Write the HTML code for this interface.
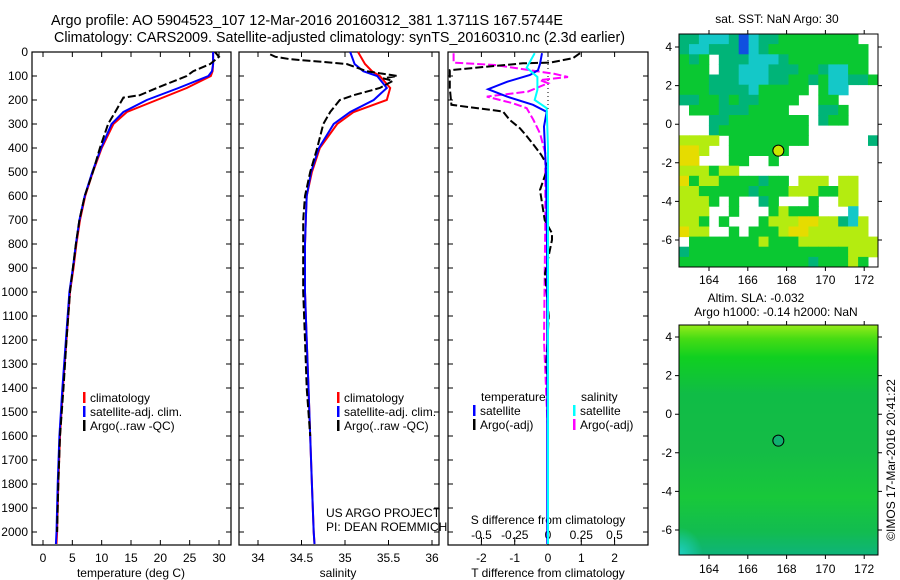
<!DOCTYPE html>
<html><head><meta charset="utf-8"><style>
html,body{margin:0;padding:0;background:#fff;}
svg{display:block;font-family:"Liberation Sans",sans-serif;}
</style></head><body>
<svg id="fig" width="900" height="580" viewBox="0 0 900 580" xmlns="http://www.w3.org/2000/svg">
<text x="51" y="25" font-size="15" textLength="512" lengthAdjust="spacingAndGlyphs">Argo profile: AO 5904523_107 12-Mar-2016 20160312_381 1.3711S 167.5744E</text>
<text x="54" y="42" font-size="15" textLength="571" lengthAdjust="spacingAndGlyphs">Climatology: CARS2009. Satellite-adjusted climatology: synTS_20160310.nc (2.3d earlier)</text>
<g id="plots"></g>
</svg>
<script>
// ---------- data ----------
const depthC = [0,50,80,100,150,200,250,300,400,500,600,700,800,900,1000,1200,1400,1600,1800,2000,2050];
const tClim  = [29.0,29.0,28.9,28.6,24.5,19.4,14.3,12.0,10.0,8.5,7.2,6.3,5.7,5.2,4.6,4.0,3.4,2.9,2.6,2.4,2.3];
const tSat   = [29.0,29.0,28.8,28.2,23.1,17.7,13.7,11.7,9.9,8.4,7.1,6.2,5.6,5.1,4.5,3.9,3.3,2.8,2.5,2.3,2.2];
const depthA = [0,20,50,80,100,150,180,190,250,300,400,500,600,700,800,900,1000,1200,1400,1600,1800,2000];
const tArgo  = [29.3,30.0,28.5,25.6,24.5,19.4,16.5,13.7,12.3,11.1,9.7,8.5,7.1,6.2,5.6,5.1,4.6,4.0,3.5,2.9,2.6,2.4];
const sClim  = [35.15,35.23,35.31,35.40,35.52,35.48,35.10,34.91,34.71,34.62,34.56,34.55,34.54,34.54,34.54,34.56,34.58,34.60,34.62,34.64,34.65];
const sSat   = [35.06,35.11,35.21,35.37,35.48,35.33,35.06,34.87,34.70,34.61,34.56,34.55,34.54,34.54,34.54,34.56,34.58,34.60,34.62,34.64,34.65];
const depthS = [10,20,30,40,50,80,100,110,120,150,180,200,250,300,400,500,600,700,1000,1200,1400,1600];
const sArgo  = [34.14,34.2,34.37,34.71,35.02,35.25,35.6,35.44,35.55,35.4,35.1,34.94,34.83,34.75,34.68,34.6,34.54,34.52,34.52,34.54,34.56,34.6];
const depthD = [5,50,76,96,124,155,186,220,249,311,500,800,1200,1600,2050];
const dTSat  = [-0.18,-0.24,-0.3,-0.54,-1.23,-1.8,-1.23,-0.45,-0.04,-0.12,-0.06,-0.03,-0.02,-0.02,-0.02];
const depthDA = [5,26,44,47,76,100,150,220,248,283,318,352,394,429,478,575,700,755,783,922,1100,1300,1400];
const dTArgo = [0.96,0.75,0.06,-0.75,-2.95,-2.95,-2.95,-2.9,-1.35,-1.15,-0.84,-0.63,-0.39,-0.2,0.0,-0.24,-0.1,0.12,0.12,-0.09,0.02,-0.05,0.0];
const depthSD = [5,44,54,82,90,104,117,130,165,186,214,234,283,339,422,700,1200,1600,2050];
const dSArgo = [-0.71,-0.71,-0.4,-0.06,0.04,0.15,-0.06,0.0,-0.15,-0.46,-0.26,-0.16,-0.11,-0.06,-0.02,-0.02,-0.03,0.0,0.0];
const depthSS = [5,65,104,158,200,234,400,1000,2050];
const dSSat  = [-0.1,-0.16,-0.08,-0.08,-0.1,-0.01,0.0,0.0,0.0];
const depthTicks = [0,100,200,300,400,500,600,700,800,900,1000,1100,1200,1300,1400,1500,1600,1700,1800,1900,2000];
const tTicks = [0,5,10,15,20,25,30];
const sTicks = [34,34.5,35,35.5,36];
const sTickLabels = ["34","34.5","35","35.5","36"];
const dTTicks = [-2,-1,0,1,2];
const dSTicks = [-0.5,-0.25,0,0.25,0.5];
const dSTickLabels = ["-0.5","-0.25","0","0.25","0.5"];
const lonTicks = [164,166,168,170,172];
const latTicks = [4,2,0,-2,-4,-6];
const argoLon = 167.5744, argoLat = -1.3711;
const sstGrid = [
"ttccctbcttgggggggg  ",
"tcctttbctgggggggggg ",
"gtg tttccctgggggggg ",
"ggg ttccctttggtccgg ",
"gggtttcccttggtgccttg",
"gggttttcggggg gcc   ",
"ttggtgttgggg  gg    ",
" gggtttgggg   ttg   ",
"   ttgggggggg tgg   ",
"   tggggggggg       ",
"yyyy gggggggg      t",
"ooy  gggggg         ",
"oo   gg  g          ",
"yyygyy              ",
"ogyyggggtgg yyy yy  ",
"yygggggtgggyyyggyy  ",
"yyyg g  tg   g  yy  ",
"yyy  g   gyggg   c  ",
"yyg g   gyyyooyytcy ",
"oyy  g gggyooyyyyyy ",
" gggggggygggyyyyyyyy",
"tggggggggggggggggyyy",
"gggggggggggggtgggyg "];
const sstColors = {g:"#0ac832",t:"#00b478",c:"#14c8c8",b:"#1050e0",y:"#b4ec10",o:"#e6dc00"};

// ---------- helpers ----------
const NS="http://www.w3.org/2000/svg";
const root=document.getElementById('plots');
function mk(tag,attrs,parent){const e=document.createElementNS(NS,tag);for(const k in attrs)e.setAttribute(k,attrs[k]);(parent||root).appendChild(e);return e;}
const Y0=52, KY=0.24, PB=545;
const yD=d=>Y0+KY*d;
const xT=t=>43+t*5.867;
const xS=s=>258+(s-34)*87;
const xDT=v=>548+v*33.3;
const xDS=v=>548+v*133;
const xLon=l=>709+(l-164)*19.4;
const yLat1=l=>47+(4-l)*19.3;
const yLat2=l=>337+(4-l)*19.3;

function panel(x0,x1,name){
  const r=mk('rect',{x:x0,y:Y0,width:x1-x0,height:PB-Y0,fill:'none',stroke:'#000','stroke-width':1.2});
  
  
  depthTicks.forEach(d=>{
    const t=mk('path',{d:`M${x0} ${yD(d)}h5M${x1} ${yD(d)}h-5`,stroke:'#000','stroke-width':1});
    
    
  });
}
function line(xs,ds,xf,color,dash,name,w){
  const pts=ds.map((d,i)=>xf(xs[i]).toFixed(1)+','+yD(d).toFixed(1)).join(' ');
  const p=mk('polyline',{points:pts,fill:'none',stroke:color,'stroke-width':w||2,'stroke-dasharray':dash||'none'});
  
  
}
function text(x,y,s,name,anchor,size){
  const t=mk('text',{x:x,y:y,'font-size':size||12,'text-anchor':anchor||'start'});
  t.textContent=s;
  
  
  return t;
}
function xticks(vals,labels,xf,x0,x1,name,ytop,ybot,ylab){
  vals.forEach((v,i)=>{
    const x=xf(v);
    const t=mk('path',{d:`M${x} ${ytop}v5M${x} ${ybot}v-5`,stroke:'#000','stroke-width':1});
    
    
    text(x,ylab,labels[i],name+'-tick-label','middle');
  });
}
function legendEntry(x,y,color,label,name){
  const m=mk('rect',{x:x,y:y-10,width:2.5,height:11,fill:color});
  
  
  text(x+7,y,label,name+'-label');
}

// ---------- panel 1: temperature ----------
panel(32,231,'temperature-panel');
depthTicks.forEach(d=>text(28,yD(d)+4,String(d),'depth-tick-label','end'));
xticks(tTicks,tTicks.map(String),xT,32,231,'temperature-axis',Y0,PB,562);
text(131,577,'temperature (deg C)','temperature-axis-title','middle');
line(tClim,depthC,xT,'#ff0000',null,'temperature-climatology-line');
line(tSat,depthC,xT,'#0000ff',null,'temperature-satellite-line');
line(tArgo,depthA,xT,'#000000','8 3','temperature-argo-line');
legendEntry(83,402,'#ff0000','climatology','temperature-legend-climatology');
legendEntry(83,416,'#0000ff','satellite-adj. clim.','temperature-legend-satellite');
legendEntry(83,430,'#000000','Argo(..raw -QC)','temperature-legend-argo');

// ---------- panel 2: salinity ----------
panel(239,439,'salinity-panel');
xticks(sTicks,sTickLabels,xS,239,439,'salinity-axis',Y0,PB,562);
text(338,577,'salinity','salinity-axis-title','middle');
line(sClim,depthC,xS,'#ff0000',null,'salinity-climatology-line');
line(sSat,depthC,xS,'#0000ff',null,'salinity-satellite-line');
line(sArgo,depthS,xS,'#000000','8 3','salinity-argo-line');
legendEntry(337,402,'#ff0000','climatology','salinity-legend-climatology');
legendEntry(337,416,'#0000ff','satellite-adj. clim.','salinity-legend-satellite');
legendEntry(337,430,'#000000','Argo(..raw -QC)','salinity-legend-argo');
text(326,517,'US ARGO PROJECT','project-credit');
text(326,531,'PI: DEAN ROEMMICH','pi-credit');

// ---------- panel 3: differences ----------
panel(448,648,'difference-panel');
const zl=mk('line',{x1:548,y1:Y0,x2:548,y2:yD(240),stroke:'#000','stroke-width':1,'stroke-dasharray':'1 3'});


xticks(dTTicks,dTTicks.map(String),xDT,448,648,'t-difference-axis',Y0,PB,562);
text(548,577,'T difference from climatology','t-difference-axis-title','middle');
dSTicks.forEach((v,i)=>{
  const x=xDS(v);
  const t=mk('path',{d:`M${x} ${PB-3}v-5`,stroke:'#000','stroke-width':1});
  
  
  text(x,539,dSTickLabels[i],'s-difference-tick-label','middle');
});
text(548,524,'S difference from climatology','s-difference-axis-title','middle');
line(dSArgo,depthSD,xDS,'#ff00ff','8 3','salinity-difference-argo-line');
line(dTArgo,depthDA,xDT,'#000000','8 3','temperature-difference-argo-line');
line(dTSat,depthD,xDT,'#0000ff',null,'temperature-difference-satellite-line');
line(dSSat,depthSS,xDS,'#00ffff',null,'salinity-difference-satellite-line');
text(481,401,'temperature','difference-legend-temperature-header');
text(581,401,'salinity','difference-legend-salinity-header');
legendEntry(473,415,'#0000ff','satellite','difference-legend-temperature-satellite');
legendEntry(473,429,'#000000','Argo(-adj)','difference-legend-temperature-argo');
legendEntry(573,415,'#00ffff','satellite','difference-legend-salinity-satellite');
legendEntry(573,429,'#ff00ff','Argo(-adj)','difference-legend-salinity-argo');

// ---------- maps ----------
function mapAxes(top,bot,yLat,name,lonLabY){
  const r=mk('rect',{x:679,y:top,width:199,height:bot-top,fill:'none',stroke:'#000','stroke-width':1});
  
  
  latTicks.forEach(l=>{
    const y=yLat(l);
    const t=mk('path',{d:`M679 ${y}h-4M878 ${y}h4`,stroke:'#000'});
    
    
    text(672,y+4,String(l),name+'-lat-label','end');
  });
  lonTicks.forEach(l=>{
    const x=xLon(l);
    const t=mk('path',{d:`M${x} ${top}v-4M${x} ${bot}v4`,stroke:'#000'});
    
    
    text(x,lonLabY,String(l),name+'-lon-label','middle');
  });
}
// map 1 SST
const M1T=34,M1B=267,cw=199/20,ch=(M1B-M1T)/23;
sstGrid.forEach((row,ri)=>{
  for(let ci=0;ci<row.length;ci++){
    const c=row[ci]; if(c===' ')continue;
    const cell=mk('rect',{x:(679+ci*cw).toFixed(1),y:(M1T+ri*ch).toFixed(1),width:(cw+0.5).toFixed(1),height:(ch+0.5).toFixed(1),fill:sstColors[c]});
    
    
  }
});
mapAxes(M1T,M1B,yLat1,'sst-map',284);
text(777,23,'sat. SST: NaN Argo: 30','sst-map-title','middle');
const c1=mk('circle',{cx:xLon(argoLon),cy:yLat1(argoLat),r:5.5,fill:'#c8e800',stroke:'#000','stroke-width':1});



// map 2 SLA
const defs=mk('defs',{});
defs.innerHTML='<linearGradient id="slaV" x1="0" y1="0" x2="0" y2="1"><stop offset="0" stop-color="#96ec1a"/><stop offset="0.06" stop-color="#46dc14"/><stop offset="0.14" stop-color="#10d020"/><stop offset="0.3" stop-color="#10bc46"/><stop offset="0.55" stop-color="#14bc46"/><stop offset="0.75" stop-color="#18c83a"/><stop offset="0.9" stop-color="#12bc50"/><stop offset="1" stop-color="#0eb47a"/></linearGradient><radialGradient id="slaC" cx="0" cy="1" r="0.12"><stop offset="0" stop-color="#20d0c0"/><stop offset="1" stop-color="#20d0c0" stop-opacity="0"/></radialGradient>';
const sla=mk('rect',{x:679,y:325,width:199,height:230,fill:'url(#slaV)'});


const sla2=mk('rect',{x:679,y:325,width:199,height:230,fill:'url(#slaC)'});


mapAxes(325,555,yLat2,'sla-map',573);
text(756,302,'Altim. SLA: -0.032','sla-map-title','middle');
text(776,316,'Argo h1000: -0.14 h2000: NaN','sla-map-subtitle','middle');
const c2=mk('circle',{cx:xLon(argoLon),cy:yLat2(argoLat),r:5.5,fill:'#10b070',stroke:'#000','stroke-width':1});


const cr=text(0,0,'©IMOS 17-Mar-2016 20:41:22','imos-timestamp','middle');
cr.setAttribute('transform','translate(895,460) rotate(-90)');
</script>
</body></html>
